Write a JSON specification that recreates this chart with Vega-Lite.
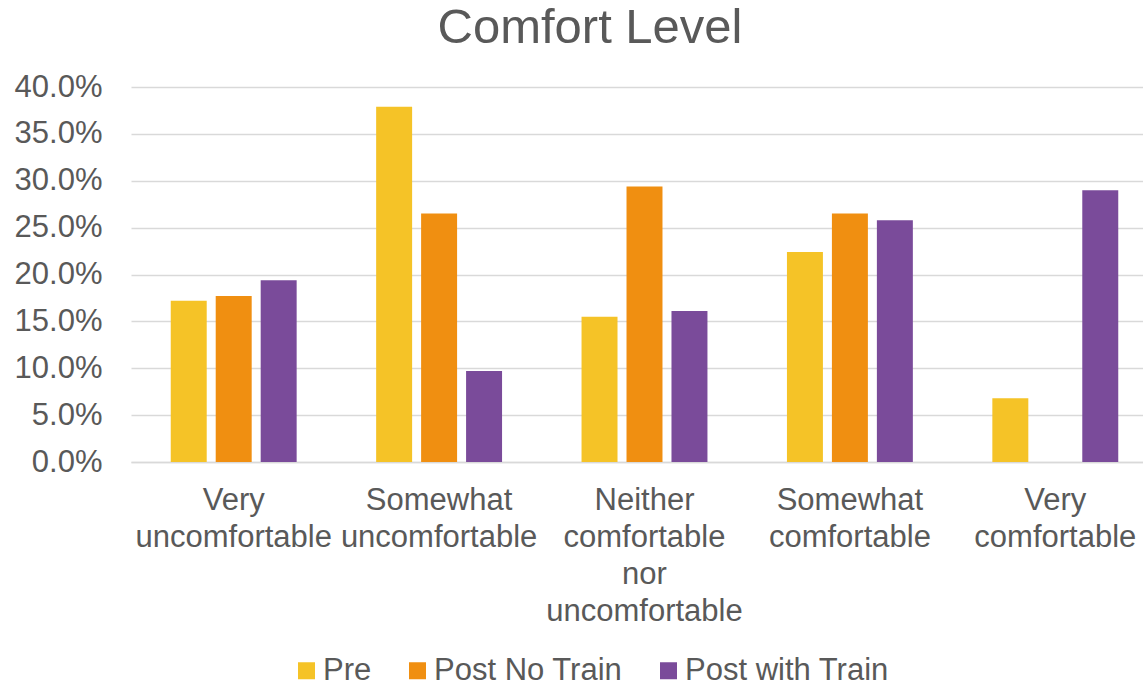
{
  "$schema": "https://vega.github.io/schema/vega-lite/v6.json",
  "autosize": {"type": "none"},
  "width": 1012,
  "height": 375,
  "padding": {"left": 131, "top": 87, "right": 0, "bottom": 223},
  "background": "white",
  "title": {
    "text": "Comfort Level",
    "fontSize": 49,
    "font": "Liberation Sans",
    "fontWeight": "normal",
    "color": "#595959",
    "anchor": "middle",
    "dx": -47,
    "offset": 18
  },
  "data": {
    "values": [
      {"category": "Very uncomfortable", "series": "Pre", "value": 0.172},
      {"category": "Very uncomfortable", "series": "Post No Train", "value": 0.177},
      {"category": "Very uncomfortable", "series": "Post with Train", "value": 0.194},
      {"category": "Somewhat uncomfortable", "series": "Pre", "value": 0.379},
      {"category": "Somewhat uncomfortable", "series": "Post No Train", "value": 0.265},
      {"category": "Somewhat uncomfortable", "series": "Post with Train", "value": 0.097},
      {"category": "Neither comfortable nor uncomfortable", "series": "Pre", "value": 0.155},
      {"category": "Neither comfortable nor uncomfortable", "series": "Post No Train", "value": 0.294},
      {"category": "Neither comfortable nor uncomfortable", "series": "Post with Train", "value": 0.161},
      {"category": "Somewhat comfortable", "series": "Pre", "value": 0.224},
      {"category": "Somewhat comfortable", "series": "Post No Train", "value": 0.265},
      {"category": "Somewhat comfortable", "series": "Post with Train", "value": 0.258},
      {"category": "Very comfortable", "series": "Pre", "value": 0.068},
      {"category": "Very comfortable", "series": "Post with Train", "value": 0.29}
    ]
  },
  "mark": {"type": "bar"},
  "encoding": {
    "x": {
      "field": "category",
      "type": "nominal",
      "sort": ["Very uncomfortable", "Somewhat uncomfortable", "Neither comfortable nor uncomfortable", "Somewhat comfortable", "Very comfortable"],
      "scale": {"range": [0, 1027], "paddingInner": 0.387, "paddingOuter": 0.1935},
      "axis": {
        "title": null,
        "labelAngle": 0,
        "labelFontSize": 31,
        "labelFont": "Liberation Sans",
        "labelColor": "#595959",
        "labelLineHeight": 37,
        "labelPadding": 23,
        "labelLimit": 0,
        "ticks": false,
        "domainColor": "#d9d9d9",
        "domainWidth": 1.5,
        "grid": false,
        "labelExpr": "datum.value == 'Very uncomfortable' ? ['Very', 'uncomfortable'] : datum.value == 'Somewhat uncomfortable' ? ['Somewhat', 'uncomfortable'] : datum.value == 'Neither comfortable nor uncomfortable' ? ['Neither', 'comfortable', 'nor', 'uncomfortable'] : datum.value == 'Somewhat comfortable' ? ['Somewhat', 'comfortable'] : ['Very', 'comfortable']"
      }
    },
    "xOffset": {
      "field": "series",
      "type": "nominal",
      "sort": ["Pre", "Post No Train", "Post with Train"],
      "scale": {"paddingInner": 0.2, "paddingOuter": 0}
    },
    "y": {
      "field": "value",
      "type": "quantitative",
      "scale": {"domain": [0, 0.4], "nice": false},
      "axis": {
        "title": null,
        "format": ".1%",
        "values": [0, 0.05, 0.1, 0.15, 0.2, 0.25, 0.3, 0.35, 0.4],
        "labelFontSize": 31,
        "labelFont": "Liberation Sans",
        "labelColor": "#595959",
        "labelPadding": 29,
        "ticks": false,
        "domain": false,
        "gridColor": "#d9d9d9",
        "gridWidth": 1.5
      }
    },
    "color": {
      "field": "series",
      "type": "nominal",
      "sort": ["Pre", "Post No Train", "Post with Train"],
      "scale": {"domain": ["Pre", "Post No Train", "Post with Train"], "range": ["#F5C327", "#F08F11", "#7A4B9A"]},
      "legend": {
        "title": null,
        "orient": "none",
        "direction": "horizontal",
        "legendX": 160,
        "legendY": 568,
        "symbolType": "square",
        "symbolSize": 289,
        "symbolStrokeWidth": 0,
        "symbolOpacity": 1,
        "labelFontSize": 31,
        "labelFont": "Liberation Sans",
        "labelColor": "#595959",
        "labelOffset": 1,
        "columnPadding": 30,
        "labelLimit": 0
      }
    }
  },
  "config": {"view": {"stroke": null}}
}
